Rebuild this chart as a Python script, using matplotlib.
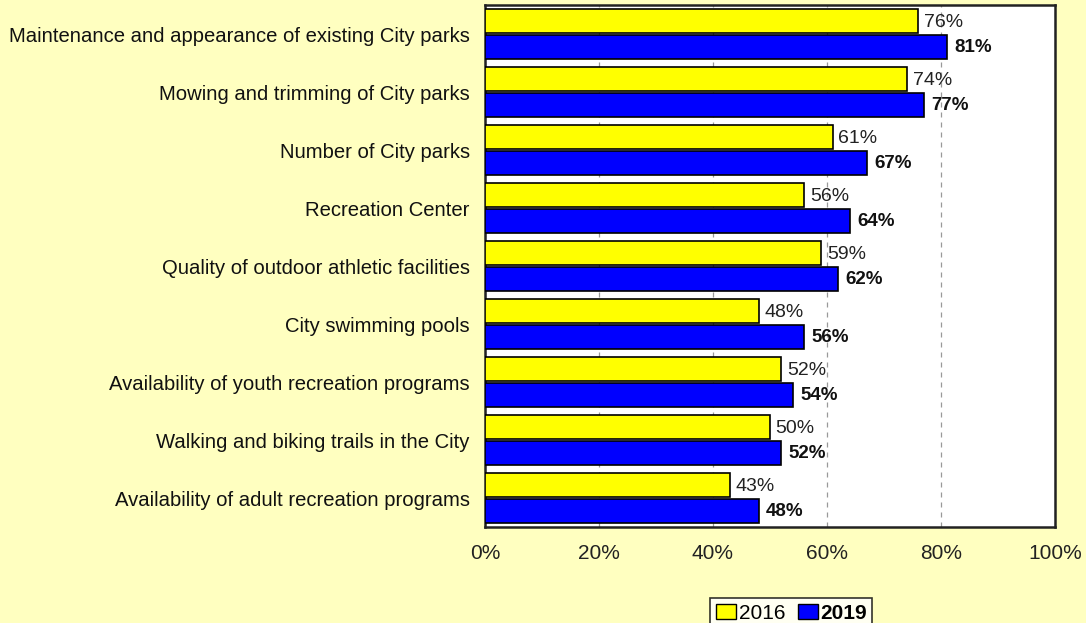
import matplotlib.pyplot as plt
import numpy as np
from matplotlib.patches import Patch

categories = [
    "Maintenance and appearance of existing City parks",
    "Mowing and trimming of City parks",
    "Number of City parks",
    "Recreation Center",
    "Quality of outdoor athletic facilities",
    "City swimming pools",
    "Availability of youth recreation programs",
    "Walking and biking trails in the City",
    "Availability of adult recreation programs",
]
vals_2016 = [76, 74, 61, 56, 59, 48, 52, 50, 43]
vals_2019 = [81, 77, 67, 64, 62, 56, 54, 52, 48]
xticks = [0, 20, 40, 60, 80, 100]

plt.rcParams['font.family'] = ['Liberation Sans', 'DejaVu Sans']

fig = plt.figure(figsize=(10.86, 6.23), dpi=100, facecolor='#FFFFC0')
ax = fig.add_axes([485/1086, 1-527/623, 570/1086, 522/623])
ax.set_facecolor('white')

y = np.arange(len(categories))
h = 0.42
ax.barh(y - h/2 - 0.01, vals_2016, height=h, color='#FFFF00', edgecolor='black', linewidth=1.2, zorder=3)
ax.barh(y + h/2 + 0.01, vals_2019, height=h, color='#0000FF', edgecolor='black', linewidth=1.2, zorder=3)

for i in range(len(categories)):
    ax.text(vals_2016[i] + 1, y[i] - h/2 + 0.01, f"{vals_2016[i]}%", va='center', ha='left',
            fontsize=14, color='#222222', zorder=4)
    ax.text(vals_2019[i] + 1.3, y[i] + h/2 + 0.03, f"{vals_2019[i]}%", va='center', ha='left',
            fontsize=13.5, fontweight='bold', color='#111111', zorder=4)

ax.set_xlim(0, 100)
ax.set_ylim(len(categories) - 0.5, -0.5)
ax.set_xticks(xticks)
ax.set_xticklabels([f"{t}%" for t in xticks], fontsize=15, color='#222222')
ax.set_yticks(y)
ax.set_yticklabels(categories, fontsize=14.6, color='#111111')
ax.tick_params(axis='y', length=0, pad=11)
ax.tick_params(axis='x', length=0, pad=12)
ax.grid(axis='x', linestyle=(0, (4, 4)), color='#999999', linewidth=0.9, zorder=0)
for s in ax.spines.values():
    s.set_linewidth(1.8)
    s.set_color('#222222')

handles = [Patch(facecolor='#FFFF00', edgecolor='black'), Patch(facecolor='#0000FF', edgecolor='black')]
leg = fig.legend(handles, ['2016', '2019'], loc='upper left', bbox_to_anchor=(700/1086, 1-588/623),
                 ncol=2, frameon=True, fancybox=False, edgecolor='black', fontsize=15,
                 handlelength=1.0, handleheight=0.7, handletextpad=0.1, columnspacing=0.6,
                 borderpad=0.25)
leg.get_frame().set_linewidth(1.2)
leg.get_texts()[1].set_fontweight('bold')

fig.savefig('out.png', dpi=100, facecolor=fig.get_facecolor())
